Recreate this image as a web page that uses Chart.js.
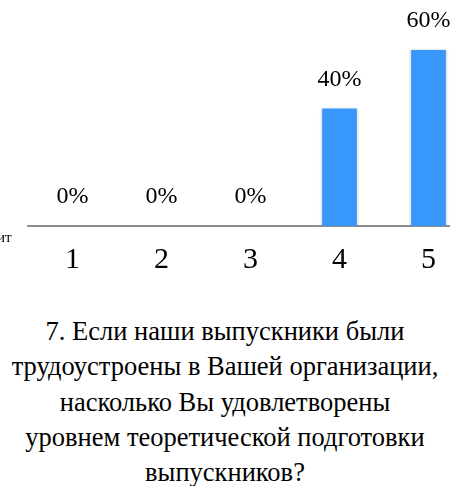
<!DOCTYPE html>
<html>
<head>
<meta charset="utf-8">
<script src="https://cdn.jsdelivr.net/npm/chart.js@4"></script>
<style>
    html, body { margin: 0; padding: 0; background: #fff; width: 450px; height: 486px; overflow: hidden; position: relative; }
    #chartBox { position: absolute; left: 0; top: 0; width: 480px; height: 290px; }
    #cutText { position: absolute; left: -3px; top: 229px; font-size: 15px; color: #000; }
    #title { position: absolute; left: 0; top: 314px; width: 450px; text-align: center; font-size: 26.5px; line-height: 35.25px; color: #000; white-space: nowrap; }
</style>
</head>
<body>
<div id="chartBox"><canvas id="firstChart" width="480" height="290"></canvas></div>
<span id="cutText" style="font-family:'Liberation Serif'">ит</span>
<div id="title" style="font-family:'Liberation Serif'">7. Если наши выпускники были<br>трудоустроены в Вашей организации,<br>насколько Вы удовлетворены<br>уровнем теоретической подготовки<br>выпускников?</div>
<script>
const categories = ["1", "2", "3", "4", "5"];
const percentValues = [0, 0, 0, 40, 60];
const valueLabels = ["0%", "0%", "0%", "40%", "60%"];

const BAR_COLOR = "#3797fb";
const SERIF = "'Liberation Serif'";

// labels over each bar
const valueLabelPlugin = {
    id: "valueLabels",
    afterDatasetsDraw(chart) {
        const ctx = chart.ctx;
        const meta = chart.getDatasetMeta(0);
        ctx.save();
        ctx.font = "24px " + SERIF;
        ctx.fillStyle = "#000";
        ctx.textAlign = "center";
        ctx.textBaseline = "bottom";
        meta.data.forEach((bar, i) => {
            ctx.fillText(valueLabels[i], bar.x, bar.y - 17);
        });
        ctx.restore();
    },
};

// soft shadow round the bars
const barShadowPlugin = {
    id: "barShadow",
    beforeDatasetDraw(chart) {
        const ctx = chart.ctx;
        ctx.save();
        ctx.shadowColor = "rgba(0,0,0,0.28)";
        ctx.shadowBlur = 3;
    },
    afterDatasetDraw(chart) {
        chart.ctx.restore();
    },
};

const canvas = document.getElementById("firstChart");
new Chart(canvas, {
    type: "bar",
    data: {
        labels: categories,
        datasets: [
            {
                data: percentValues,
                backgroundColor: BAR_COLOR,
                borderWidth: 0,
                barPercentage: 0.39,
                categoryPercentage: 1,
            },
        ],
    },
    options: {
        responsive: false,
        animation: false,
        layout: { padding: { left: 28, right: 7, top: 0, bottom: 0 } },
        plugins: {
            legend: { display: false },
            tooltip: { enabled: false },
        },
        scales: {
            x: {
                grid: { display: false, drawTicks: false },
                border: { display: true, color: "#8c8c8c", width: 2 },
                ticks: {
                    color: "#000",
                    padding: 16,
                    font: { family: SERIF, size: 30 },
                },
                afterFit(scale) {
                    scale.height = 64;
                },
            },
            y: {
                display: false,
                min: 0,
                max: 77,
            },
        },
    },
    plugins: [barShadowPlugin, valueLabelPlugin],
});
</script>
</body>
</html>
